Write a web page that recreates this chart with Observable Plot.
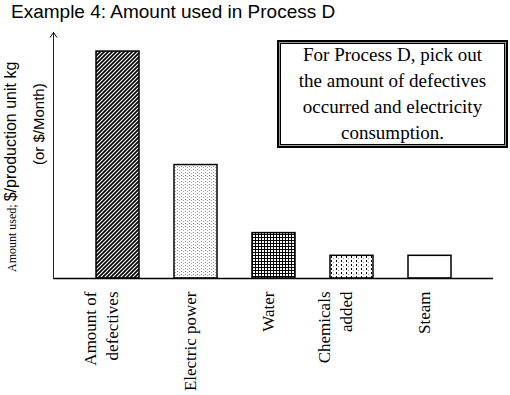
<!DOCTYPE html>
<html>
<head>
<meta charset="utf-8">
<script src="https://cdn.jsdelivr.net/npm/d3@7"></script>
<script src="https://cdn.jsdelivr.net/npm/@observablehq/plot@0.6"></script>
<style>
  html, body { margin: 0; padding: 0; background: #fff; }
  #wrap { position: relative; width: 510px; height: 395px; overflow: hidden; }
  #title { height: 24px; line-height: 24px; padding-left: 11px; font-family: "Liberation Sans", Arial, sans-serif; font-size: 19px; color: #000; white-space: nowrap; }
  .rot { position: absolute; transform-origin: 0 0; transform: rotate(-90deg); white-space: nowrap; color: #000; }
  #ylab1 { left: 1px; top: 272px; line-height: 20px; font-family: "Liberation Sans", Arial, sans-serif; font-size: 16px; }
  #ylab1 .serif { font-family: "Liberation Serif", "Times New Roman", serif; font-size: 12px; }
  #ylab2 { left: 28.6px; top: 165px; line-height: 20px; font-family: "Liberation Sans", Arial, sans-serif; font-size: 15px; }
  #note { position: absolute; left: 277px; top: 40px; width: 231px; height: 108px; box-sizing: border-box;
          border: 2px solid #000; box-shadow: inset 0 0 0 1px #999, inset 0 0 0 2px #000;
          display: flex; align-items: center; justify-content: center; text-align: center;
          font-family: "Liberation Serif", "Times New Roman", serif; font-size: 19px; line-height: 26px; color: #000; background: #fff; }
</style>
</head>
<body>
<svg width="0" height="0" style="position:absolute">
  <defs>
    <pattern id="p-hatch" patternUnits="userSpaceOnUse" width="4" height="4">
      <rect width="4" height="4" fill="#fff"/>
      <path d="M-1,1 l2,-2 M0,4 l4,-4 M3,5 l2,-2" stroke="#000" stroke-width="1.7"/>
    </pattern>
    <pattern id="p-dots" patternUnits="userSpaceOnUse" width="4" height="3">
      <rect width="4" height="3" fill="#fff"/>
      <rect x="1" y="1" width="1" height="1" fill="#888"/>
      <rect x="3" y="2" width="1" height="1" fill="#aaa"/>
    </pattern>
    <pattern id="p-grid" patternUnits="userSpaceOnUse" width="3" height="3">
      <rect width="3" height="3" fill="#fff"/>
      <path d="M0,0.5 h3 M0.5,0 v3" stroke="#000" stroke-width="1"/>
    </pattern>
    <pattern id="p-dash" patternUnits="userSpaceOnUse" width="5" height="4">
      <rect width="5" height="4" fill="#fff"/>
      <rect x="1" y="0" width="1" height="2" fill="#000"/>
      <rect x="3" y="2" width="1" height="1" fill="#999"/>
    </pattern>
    <marker id="arrowhead" viewBox="-6 -6 12 12" markerWidth="12" markerHeight="12" markerUnits="userSpaceOnUse" refX="0" refY="0" orient="auto-start-reverse">
      <path d="M-5,-3.5 L0,0 L-5,3.5" fill="none" stroke="#000" stroke-width="1"/>
    </marker>
  </defs>
</svg>
<div id="wrap">
  <div id="title">Example 4: Amount used in Process D</div>
  <div id="chart"></div>
  <div id="ylab1" class="rot"><span class="serif">Amount used; </span>$/production unit kg</div>
  <div id="ylab2" class="rot">(or $/Month)</div>
  <div id="note">For Process D, pick out<br>the amount of defectives<br>occurred and electricity<br>consumption.</div>
</div>
<script>
const categories = ["Amount of\ndefectives", "Electric power", "Water", "Chemicals\nadded", "Steam"];
const values = [10, 5, 2, 1, 1];
const patterns = ["url(#p-hatch)", "url(#p-dots)", "url(#p-grid)", "url(#p-dash)", "#ffffff"];

const data = categories.map((c, i) => ({category: c, value: values[i], pattern: patterns[i]}));

const chart = Plot.plot({
  width: 510,
  height: 371,
  marginLeft: 53,
  marginRight: 17,
  marginTop: 8,
  marginBottom: 117,
  x: {type: "band", domain: categories, range: [96, 451], paddingInner: 0.45, paddingOuter: 0, axis: null},
  y: {domain: [0, 10.84], axis: null},
  color: {type: "identity"},
  style: {background: "#fff", overflow: "visible"},
  marks: [
    Plot.barY(data, {x: "category", y: "value", fill: "pattern", stroke: "#000", strokeWidth: 1.5}),
    Plot.ruleY([0], {stroke: "#000", strokeWidth: 1.5}),
    Plot.frame({anchor: "left", stroke: "#222", strokeWidth: 1}),
    Plot.text(categories, {
      x: d => d,
      text: d => d,
      frameAnchor: "bottom",
      rotate: -90,
      textAnchor: "end",
      lineHeight: 1.3,
      dy: 13,
      fontFamily: "Liberation Serif, Times New Roman, serif",
      fontSize: 17,
      fill: "#000"
    })
  ]
});
document.getElementById("chart").appendChild(chart);
d3.select(chart).select('[aria-label="frame"]').attr("marker-start", "url(#arrowhead)");
</script>
</body>
</html>
